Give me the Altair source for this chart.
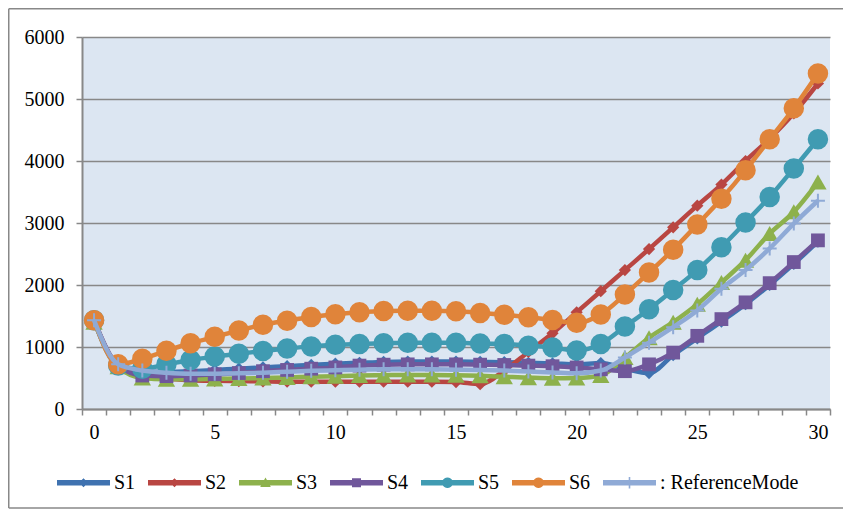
import math
import altair as alt
import pandas as pd

# ---------------- data ----------------
x_values = list(range(31))
s1 = [1430, 700, 610, 600, 610, 630, 650, 670, 690, 710, 730, 745, 760, 765, 765, 765,
      760, 755, 745, 735, 720, 740, 650, 580, 870, 1140, 1410, 1690, 2000, 2340, 2700]
s2 = [1430, 700, 550, 490, 465, 455, 450, 445, 440, 440, 440, 440, 440, 440, 440, 435,
      400, 620, 920, 1220, 1560, 1900, 2240, 2580, 2930, 3280, 3620, 4000, 4360, 4770, 5250]
s3 = [1400, 680, 500, 480, 480, 485, 490, 500, 510, 520, 530, 540, 545, 550, 550, 545,
      535, 520, 505, 495, 500, 540, 830, 1150, 1400, 1690, 2040, 2400, 2830, 3180, 3660]
s4 = [1430, 700, 540, 530, 540, 560, 580, 610, 630, 650, 670, 700, 715, 720, 720, 720,
      715, 710, 700, 690, 670, 640, 610, 720, 910, 1180, 1450, 1720, 2030, 2370, 2720]
s5 = [1430, 700, 650, 720, 790, 845, 890, 935, 975, 1010, 1035, 1050, 1060, 1070, 1070, 1070,
      1055, 1050, 1020, 990, 945, 1050, 1330, 1610, 1920, 2240, 2610, 3010, 3420, 3880, 4350]
s6 = [1430, 720, 810, 940, 1060, 1165, 1265, 1360, 1425, 1485, 1530, 1560, 1580, 1585, 1585, 1575,
      1550, 1520, 1480, 1435, 1390, 1525, 1845, 2200, 2570, 2975, 3390, 3850, 4350, 4850, 5410]
ref = [1430, 720, 620, 585, 570, 570, 575, 585, 600, 615, 625, 635, 640, 640, 640, 635,
       630, 620, 605, 590, 575, 620, 830, 1070, 1320, 1590, 1940, 2240, 2590, 2990, 3360]

series_names = ["S1", "S2", "S3", "S4", "S5", "S6", ": ReferenceMode"]
series_values = [s1, s2, s3, s4, s5, s6, ref]
y_tick_values = [0, 1000, 2000, 3000, 4000, 5000, 6000]
x_label_values = [0, 5, 10, 15, 20, 25, 30]

# ---------------- styles ----------------
colors = ["#3f72b0", "#b94642", "#8db14c", "#70579b", "#409bb2", "#e0843a", "#8faad6"]
marker_shapes = ["diamond", "diamond", "triangle-up", "square", "circle", "circle", "M-1,0H1M0,-1V1"]
marker_sizes = [150, 150, 300, 190, 420, 420, 196]
FONT = "Times New Roman, Liberation Serif, serif"
GRAY = "#888888"

rows = []
for name, vals in zip(series_names, series_values):
    for xv, v in zip(x_values, vals):
        rows.append({"x": xv, "value": v, "series": name})
df = pd.DataFrame(rows)


def rect(x0, y0, x1, y1):
    return f"M{x0},{y0}L{x1},{y0}L{x1},{y1}L{x0},{y1}Z"


def poly_circle(r, n=20):
    pts = [(r * math.cos(2 * math.pi * k / n), r * math.sin(2 * math.pi * k / n)) for k in range(n)]
    return "M" + "L".join(f"{px:.3f},{py:.3f}" for px, py in pts) + "Z"


LH = 0.1
line_path = rect(-1, -LH, 1, LH)
legend_paths = [
    line_path + "M0,-0.17L0.17,0L0,0.17L-0.17,0Z",
    line_path + "M0,-0.17L0.17,0L0,0.17L-0.17,0Z",
    line_path + "M0,-0.2L0.2,0.16L-0.2,0.16Z",
    line_path + rect(-0.17, -0.17, 0.17, 0.17),
    line_path + poly_circle(0.2),
    line_path + poly_circle(0.2),
    line_path + rect(-0.03, -0.22, 0.03, 0.22),
]

# ---------------- layout ----------------
PL, PT, PR, PB = 74, 29, 13, 100
W, H = 748, 372

x_axis_values = [i - 0.5 for i in range(32)] + x_label_values
x_enc = alt.X(
    "x:Q",
    scale=alt.Scale(domain=[-0.5, 30.5], nice=False, zero=False),
    axis=alt.Axis(
        values=x_axis_values,
        title=None,
        grid=False,
        labelExpr="datum.value % 5 == 0 ? '' + datum.value : ''",
        labelOverlap=False,
        labelFont=FONT,
        labelFontSize=20,
        labelColor="black",
        labelPadding=7,
        tickSize=6,
        tickWidth=1.5,
        tickColor=GRAY,
        tickOpacity={"condition": {"test": "datum.value % 1 == 0", "value": 0}, "value": 1},
        domainColor=GRAY,
        domainWidth=2,
    ),
)
y_enc = alt.Y(
    "value:Q",
    scale=alt.Scale(domain=[0, 6000], nice=False),
    axis=alt.Axis(
        values=y_tick_values,
        format="d",
        title=None,
        labelFont=FONT,
        labelFontSize=20,
        labelColor="black",
        labelPadding=12,
        tickSize=6,
        tickWidth=1.5,
        tickColor=GRAY,
        domainColor=GRAY,
        domainWidth=2,
        gridColor=GRAY,
        gridWidth=1.5,
    ),
)
color_scale = alt.Scale(domain=series_names, range=colors)
color_enc = alt.Color("series:N", scale=color_scale, legend=None)

base = alt.Chart(df)
layers = []

# legend-only layer (no visible marks), placed first so its legend settings win
legend_def = alt.Legend(
    title=None,
    orient="none",
    legendX=-25,
    legendY=419,
    direction="horizontal",
    columns=7,
    symbolSize=2809,
    symbolStrokeWidth=0,
    labelFont=FONT,
    labelFontSize=20,
    labelColor="black",
    labelOffset=4,
    columnPadding=12,
)
legend_layer = base.transform_filter("datum.x < -10").mark_point(filled=True, opacity=1).encode(
    x=x_enc,
    y=y_enc,
    color=alt.Color("series:N", scale=color_scale, legend=legend_def),
    shape=alt.Shape("series:N", scale=alt.Scale(domain=series_names, range=legend_paths), legend=legend_def),
)
layers.append(legend_layer)

# outer chart frame (decoration)
frame = alt.Chart(pd.DataFrame({"k": [0]}))
fx0, fy0, fx1, fy1 = 0.75 - PL, 0.75 - PT, 835 - PL, 500 - PT
layers.append(frame.mark_rule(color=GRAY, strokeWidth=1.5).encode(
    x=alt.value(fx0), x2=alt.value(fx1), y=alt.value(fy0)))
layers.append(frame.mark_rule(color=GRAY, strokeWidth=1.5).encode(
    x=alt.value(fx0), y=alt.value(fy0), y2=alt.value(fy1)))
layers.append(frame.mark_rule(color=GRAY, strokeWidth=1.5).encode(
    x=alt.value(fx0), x2=alt.value(fx1), y=alt.value(fy1)))

for name, shp, sz in zip(series_names, marker_shapes, marker_sizes):
    sub = base.transform_filter(alt.datum.series == name)
    layers.append(sub.mark_line(interpolate="monotone", strokeWidth=4.5).encode(
        x=x_enc, y=y_enc, color=color_enc))
    if shp.startswith("M"):
        pt = sub.mark_point(shape=shp, filled=False, size=sz, strokeWidth=2, opacity=1)
    else:
        pt = sub.mark_point(shape=shp, filled=True, size=sz, opacity=1)
    layers.append(pt.encode(x=x_enc, y=y_enc, color=color_enc))

chart = alt.layer(*layers).properties(
    width=W,
    height=H,
    autosize=alt.AutoSizeParams(type="none"),
    padding={"left": PL, "top": PT, "right": PR, "bottom": PB},
    background="white",
).configure_view(fill="#dce6f2", strokeWidth=0)

chart.save("out.html", embed_options={"renderer": "svg", "actions": False})
